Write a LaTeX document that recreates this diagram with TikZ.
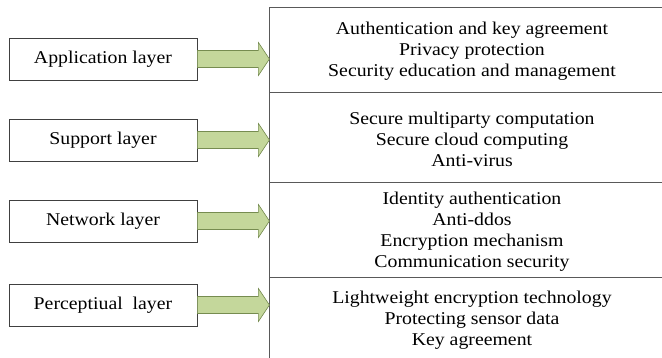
\documentclass[tikz,border=0pt]{standalone}
\usepackage{fontspec}
\setmainfont[FakeStretch=1.1]{Liberation Serif}
\usetikzlibrary{calc}
\tikzset{
  layerbox/.style={draw=black!75, line width=0.8pt, minimum width=188pt, minimum height=42pt, inner sep=0pt, font=\fontsize{18}{21}\selectfont},
  rowtext/.style={align=center, font=\fontsize{18}{21}\selectfont, inner sep=0pt},
  tabline/.style={draw=black!65, line width=0.8pt},
  bigarrow/.style={fill={rgb,255:red,196;green,215;blue,155}, draw={rgb,255:red,118;green,140;blue,80}, line width=0.6pt}
}
\begin{document}
\begin{tikzpicture}[x=1pt,y=-1pt]
\useasboundingbox (0,0) rectangle (662,358);
% left layer boxes
\node[layerbox] (app) at (103,59) {Application layer};
\node[layerbox] (sup) at (103,140) {Support layer};
\node[layerbox] (net) at (103,221) {Network layer};
\node[layerbox] (per) at (103,305) {Perceptiual\ \ layer};
% table frame
\coordinate (tl) at (269,7);
\coordinate (tr) at (662,7);
\coordinate (bl) at (269,358);
\coordinate (s1l) at (269,92);  \coordinate (s1r) at (662,92);
\coordinate (s2l) at (269,182); \coordinate (s2r) at (662,182);
\coordinate (s3l) at (269,277); \coordinate (s3r) at (662,277);
\draw[tabline] (tr) -- (tl) -- (bl);
\draw[tabline] (s1l) -- (s1r);
\draw[tabline] (s2l) -- (s2r);
\draw[tabline] (s3l) -- (s3r);
% row texts
\node[rowtext] (r1) at (472,51) {Authentication and key agreement\\Privacy protection\\Security education and management};
\node[rowtext] (r2) at (472,139) {Secure multiparty computation\\Secure cloud computing\\Anti-virus};
\node[rowtext] (r3) at (472,232) {Identity authentication\\Anti-ddos\\Encryption mechanism\\Communication security};
\node[rowtext] (r4) at (472,320) {Lightweight encryption technology\\Protecting sensor data\\Key agreement};
% arrows
\foreach \b in {app,sup,net,per}{
  \draw[bigarrow] ($(\b.east)+(0,-8.5)$) -- ++(61,0) -- ++(0,-8) -- ++(11,16.5) -- ++(-11,16.5) -- ++(0,-8) -- ++(-61,0) -- cycle;
}
\end{tikzpicture}
\end{document}
